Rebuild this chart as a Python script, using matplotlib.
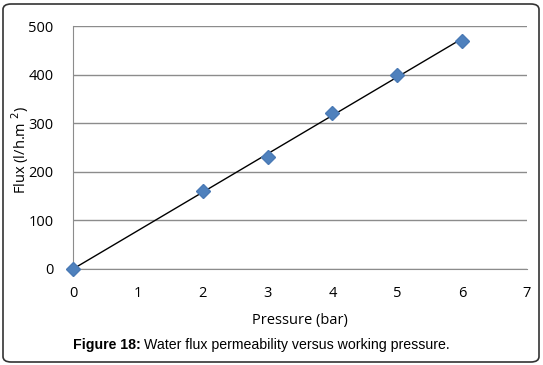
import matplotlib
matplotlib.use("Agg")
import matplotlib.pyplot as plt
import numpy as np
from matplotlib.patches import FancyBboxPatch

pressure = [0, 2, 3, 4, 5, 6]
flux = [0, 160, 230, 320, 400, 470]
xticks = [0, 1, 2, 3, 4, 5, 6, 7]
yticks = [0, 100, 200, 300, 400, 500]

W, H = 543, 365
fig = plt.figure(figsize=(W/100, H/100), dpi=100)
ax = fig.add_axes([73/W, 1-269/H, (527-73)/W, (269-26)/H])

ax.set_xlim(0, 7)
ax.set_ylim(0, 500)
ax.set_xticks(xticks)
ax.set_yticks(yticks)
ax.yaxis.grid(True, color='#8c8c8c', linewidth=1)
ax.set_axisbelow(True)
for s in ['top', 'right']:
    ax.spines[s].set_visible(False)
ax.spines['left'].set_color('#8c8c8c')
ax.spines['bottom'].set_color('#8c8c8c')
ax.tick_params(axis='y', length=0, labelsize=10.5, pad=14, colors='black')
ax.tick_params(axis='x', length=0, labelsize=10.5, pad=12, colors='black')
for lab in ax.get_xticklabels() + ax.get_yticklabels():
    lab.set_fontfamily('Open Sans')

coef = np.polyfit(pressure, flux, 1)
xl = np.array([min(pressure), max(pressure)])
ax.plot(xl, np.polyval(coef, xl), color='black', linewidth=1, zorder=3)
ax.plot(pressure, flux, linestyle='none', marker='D', markersize=7,
        color='#4F81BD', markeredgecolor='#4A7AB5', zorder=4, clip_on=False)

ax.set_xlabel('Pressure (bar)', fontfamily='Open Sans', fontsize=10.5, labelpad=9)
fig.text(20/W, 1-150/H, r'Flux (l/h.m $^{2}$)', fontfamily='Open Sans', fontsize=10.5,
         rotation=90, ha='center', va='center')

# caption: bold part + regular part
cap_y = 1 - 345/H
t1 = fig.text(73/W, cap_y, 'Figure 18:', ha='left', va='center', fontsize=10.2,
              fontfamily='Liberation Sans', fontweight='bold')
fig.canvas.draw()
bb = t1.get_window_extent(renderer=fig.canvas.get_renderer())
fig.text(bb.x1/W + 3/W, cap_y, 'Water flux permeability versus working pressure.',
         ha='left', va='center', fontsize=10.2, fontfamily='Liberation Sans')

fig.patches.append(FancyBboxPatch((3/W, 3/H), (W-7)/W, (H-7)/H,
                                  boxstyle='round,pad=0,rounding_size=0.015',
                                  transform=fig.transFigure, fill=False,
                                  edgecolor='#333333', linewidth=1.2))

fig.savefig('out.png', dpi=100)
